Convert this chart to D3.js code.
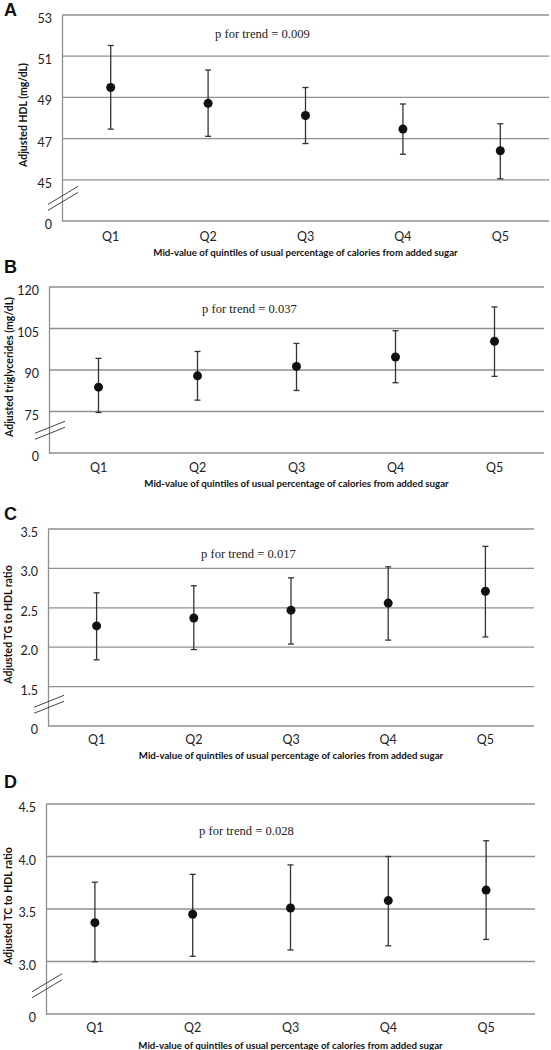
<!DOCTYPE html>
<html>
<head>
<meta charset="utf-8">
<script src="https://cdn.jsdelivr.net/npm/d3@7"></script>
<style>
  html, body { margin: 0; padding: 0; background: #fff; }
  svg { display: block; }
</style>
</head>
<body>
<svg id="chart" width="551" height="1050"></svg>
<script>
// ---------- DATA ----------
const categories = ["Q1", "Q2", "Q3", "Q4", "Q5"];
const xTitle = "Mid-value of quintiles of usual percentage of calories from added sugar";

// Panel A: HDL
const hdlTicks = [0, 45, 47, 49, 51, 53];
const hdlMean  = [49.48, 48.71, 48.12, 47.46, 46.41];
const hdlLower = [47.46, 47.11, 46.76, 46.24, 45.05];
const hdlUpper = [51.52, 50.33, 49.48, 48.68, 47.72];

// Panel B: triglycerides
const tgTicks = [0, 75, 90, 105, 120];
const tgMean  = [83.8, 87.9, 91.3, 94.7, 100.4];
const tgLower = [73.2, 79.1, 82.6, 85.4, 87.7];
const tgUpper = [94.2, 96.7, 99.6, 104.2, 112.8];

// Panel C: TG to HDL ratio
const tgHdlTicks = [0, 1.5, 2.0, 2.5, 3.0, 3.5];
const tgHdlMean  = [2.27, 2.37, 2.47, 2.56, 2.71];
const tgHdlLower = [1.84, 1.97, 2.04, 2.09, 2.13];
const tgHdlUpper = [2.69, 2.78, 2.88, 3.02, 3.28];

// Panel D: TC to HDL ratio
const tcHdlTicks = [0, 3.0, 3.5, 4.0, 4.5];
const tcHdlMean  = [3.37, 3.45, 3.51, 3.58, 3.68];
const tcHdlLower = [2.985, 3.05, 3.11, 3.15, 3.21];
const tcHdlUpper = [3.755, 3.83, 3.92, 4.00, 4.15];

const panelLetters = ["A", "B", "C", "D"];
const yTitles = ["Adjusted HDL (mg/dL)", "Adjusted triglycerides (mg/dL)",
                 "Adjusted TG to HDL ratio", "Adjusted TC to HDL ratio"];
const pTexts = ["p for trend = 0.009", "p for trend = 0.037",
                "p for trend = 0.017", "p for trend = 0.028"];

// ---------- LAYOUT ----------
const panels = [
  { ticks: hdlTicks,   mean: hdlMean,   lower: hdlLower,   upper: hdlUpper,   fmt: d3.format("d"),
    left: 62, right: 549, top: 15,  bottom: 221,  letterY: 16,  pY: 38,  qY: 237,  xtY: 253,  ytX: 23, brk: 9 },
  { ticks: tgTicks,    mean: tgMean,    lower: tgLower,    upper: tgUpper,    fmt: d3.format("d"),
    left: 49, right: 544, top: 287, bottom: 453,  letterY: 273, pY: 313, qY: 468,  xtY: 484,  ytX: 9,  brk: 6 },
  { ticks: tgHdlTicks, mean: tgHdlMean, lower: tgHdlLower, upper: tgHdlUpper, fmt: d => d === 0 ? "0" : d3.format(".1f")(d),
    left: 48, right: 534, top: 529, bottom: 726,  letterY: 520, pY: 558, qY: 740,  xtY: 756,  ytX: 8,  brk: 6 },
  { ticks: tcHdlTicks, mean: tcHdlMean, lower: tcHdlLower, upper: tcHdlUpper, fmt: d => d === 0 ? "0" : d3.format(".1f")(d),
    left: 46, right: 535, top: 804, bottom: 1014, letterY: 788, pY: 835, qY: 1028, xtY: 1046, ytX: 8,  brk: 9 }
];

const svg = d3.select("#chart");
const gridColor = "#8f8f8f";
const sans = "Lato, 'Open Sans', sans-serif";

panels.forEach((p, pi) => {
  const g = svg.append("g");
  const step = (p.bottom - p.top) / (p.ticks.length - 1);
  // piecewise (broken) linear scale: equal spacing between listed levels
  const y = d3.scaleLinear()
    .domain(p.ticks)
    .range(p.ticks.map((_, i) => p.bottom - i * step));
  const x = d3.scaleBand().domain(categories).range([p.left, p.right]);
  const cx = c => x(c) + x.bandwidth() / 2;

  // gridlines
  g.selectAll("line.grid").data(p.ticks).join("line")
    .attr("x1", p.left).attr("x2", p.right)
    .attr("y1", d => y(d)).attr("y2", d => y(d))
    .attr("stroke", gridColor).attr("stroke-width", 1.3);

  // y axis
  const yAxis = d3.axisLeft(y).tickValues(p.ticks).tickFormat(p.fmt).tickSize(0).tickPadding(10);
  const ya = g.append("g").attr("transform", `translate(${p.left},0)`).call(yAxis);
  ya.select(".domain").attr("stroke", gridColor).attr("stroke-width", 1.3);
  ya.selectAll("text").attr("font-family", sans).attr("font-size", 12.5).attr("fill", "#222")
    .attr("dy", "0.6em");

  // x axis labels
  const xAxis = d3.axisBottom(x).tickSize(0).tickPadding(0);
  const xa = g.append("g").attr("transform", `translate(0,${p.qY})`).call(xAxis);
  xa.select(".domain").remove();
  xa.selectAll("text").attr("font-family", sans).attr("font-size", 12.5).attr("fill", "#222")
    .attr("dy", "0.35em").attr("y", 0);

  // axis break marks
  const by = (y(p.ticks[0]) + y(p.ticks[1])) / 2 - 2;
  [-3, 3].forEach(off => {
    g.append("line")
      .attr("x1", p.left - 14).attr("y1", by + off + p.brk)
      .attr("x2", p.left + 16).attr("y2", by + off - p.brk)
      .attr("stroke", "#444").attr("stroke-width", 1);
  });

  // error bars
  const cap = 3;
  const eb = g.selectAll("g.eb").data(categories).join("g");
  eb.append("line")
    .attr("x1", d => cx(d)).attr("x2", d => cx(d))
    .attr("y1", (d, i) => y(p.lower[i])).attr("y2", (d, i) => y(p.upper[i]))
    .attr("stroke", "#333").attr("stroke-width", 1.3);
  eb.append("line")
    .attr("x1", d => cx(d) - cap).attr("x2", d => cx(d) + cap)
    .attr("y1", (d, i) => y(p.upper[i])).attr("y2", (d, i) => y(p.upper[i]))
    .attr("stroke", "#333").attr("stroke-width", 1.3);
  eb.append("line")
    .attr("x1", d => cx(d) - cap).attr("x2", d => cx(d) + cap)
    .attr("y1", (d, i) => y(p.lower[i])).attr("y2", (d, i) => y(p.lower[i]))
    .attr("stroke", "#333").attr("stroke-width", 1.3);
  eb.append("circle")
    .attr("cx", d => cx(d)).attr("cy", (d, i) => y(p.mean[i]))
    .attr("r", 4.5).attr("fill", "#111");

  // p for trend
  g.append("text").attr("x", p.left + 153).attr("y", p.pY)
    .attr("font-family", "'Liberation Serif', 'Times New Roman', serif")
    .attr("font-size", 12.6).attr("fill", "#222").text(pTexts[pi]);

  // x title
  g.append("text").attr("x", (p.left + p.right) / 2).attr("y", p.xtY)
    .attr("text-anchor", "middle").attr("dy", "0.35em")
    .attr("font-family", sans).attr("font-weight", "bold").attr("font-size", 9.7)
    .attr("fill", "#111").text(xTitle);

  // y title
  g.append("text")
    .attr("transform", `translate(${p.ytX},${(p.top + p.bottom) / 2 - 3}) rotate(-90)`)
    .attr("text-anchor", "middle").attr("dy", "0.35em")
    .attr("font-family", sans).attr("font-weight", "bold").attr("font-size", 10.5)
    .attr("fill", "#111").text(yTitles[pi]);

  // panel letter
  g.append("text").attr("x", 4).attr("y", p.letterY)
    .attr("font-family", "'Liberation Sans', Arial, sans-serif").attr("font-weight", "bold")
    .attr("font-size", 18).attr("fill", "#111").text(panelLetters[pi]);
});
</script>
</body>
</html>
